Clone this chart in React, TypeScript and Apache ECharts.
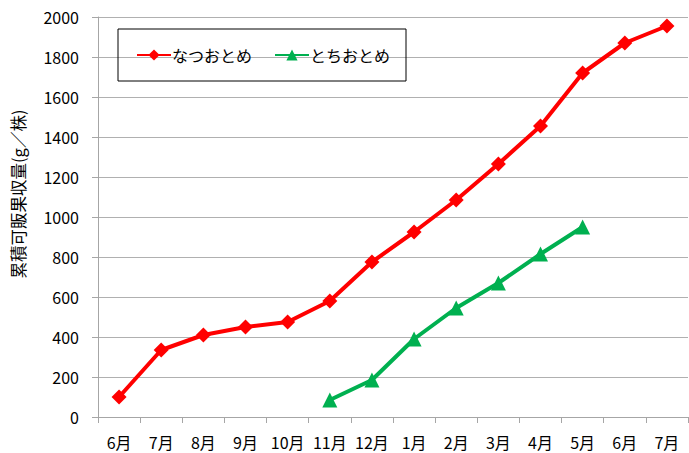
import React, { useEffect, useRef } from "react";
import * as echarts from "echarts";

const categories = ["6月", "7月", "8月", "9月", "10月", "11月", "12月", "1月", "2月", "3月", "4月", "5月", "6月", "7月"];
const natsuotome = [100, 335, 410, 450, 475, 580, 775, 925, 1085, 1265, 1455, 1720, 1870, 1955];
const tochiotome = [null, null, null, null, null, 85, 185, 390, 545, 670, 815, 950, null, null];
const yTicks = { min: 0, max: 2000, interval: 200 };
const yTitle = "累積可販果収量(g／株)";

export default function App() {
  const ref = useRef<HTMLDivElement>(null);
  useEffect(() => {
    if (!ref.current) return;
    const chart = echarts.init(ref.current, null, { renderer: "svg" });
    const font = "'Noto Sans CJK JP', 'Noto Sans', sans-serif";
    chart.setOption({
      animation: false,
      textStyle: { fontFamily: font },
      grid: { left: 98, right: 1, top: 17, bottom: 36, containLabel: false },
      legend: {
        left: 118,
        top: 29,
        width: 288,
        height: 55,
        padding: [18, 16, 18, 18],
        itemGap: 22,
        itemWidth: 34,
        itemHeight: 14,
        borderColor: "#000",
        borderWidth: 1,
        textStyle: { fontSize: 16, color: "#000", fontFamily: font, padding: [0, 0, 0, -4] },
        data: ["なつおとめ", "とちおとめ"],
      },
      graphic: [
        {
          type: "text",
          x: 18,
          y: 194,
          rotation: Math.PI / 2,
          style: {
            text: yTitle,
            fontSize: 16.5,
            fontFamily: font,
            fill: "#000",
            align: "center",
            verticalAlign: "middle",
          },
        },
      ],
      xAxis: {
        type: "category",
        data: categories,
        boundaryGap: true,
        axisLine: { lineStyle: { color: "#a6a6a6", width: 1 } },
        axisTick: { show: true, length: 6, lineStyle: { color: "#a6a6a6" }, alignWithLabel: false, interval: 0 },
        axisLabel: { color: "#000", fontSize: 16, margin: 17, fontFamily: font, interval: 0, hideOverlap: false },
      },
      yAxis: {
        type: "value",
        min: yTicks.min,
        max: yTicks.max,
        interval: yTicks.interval,
        axisLine: { show: true, lineStyle: { color: "#a6a6a6", width: 1 } },
        axisTick: { show: true, length: 6, lineStyle: { color: "#a6a6a6" } },
        axisLabel: {
          color: "#000",
          fontSize: 16,
          margin: 19,
          fontFamily: font,
          formatter: (v: number) => String(v),
        },
        splitLine: { lineStyle: { color: "#b0b0b0", width: 1 } },
      },
      series: [
        {
          name: "なつおとめ",
          type: "line",
          data: natsuotome,
          symbol: "diamond",
          symbolSize: 15,
          lineStyle: { color: "#ff0000", width: 4 },
          itemStyle: { color: "#ff0000" },
        },
        {
          name: "とちおとめ",
          type: "line",
          data: tochiotome,
          symbol: "triangle",
          symbolSize: 15,
          lineStyle: { color: "#00b050", width: 4 },
          itemStyle: { color: "#00b050" },
        },
      ],
    });
    return () => chart.dispose();
  }, []);
  return <div ref={ref} style={{ width: 689, height: 453, position: "absolute", left: 0, top: 0 }} />;
}
